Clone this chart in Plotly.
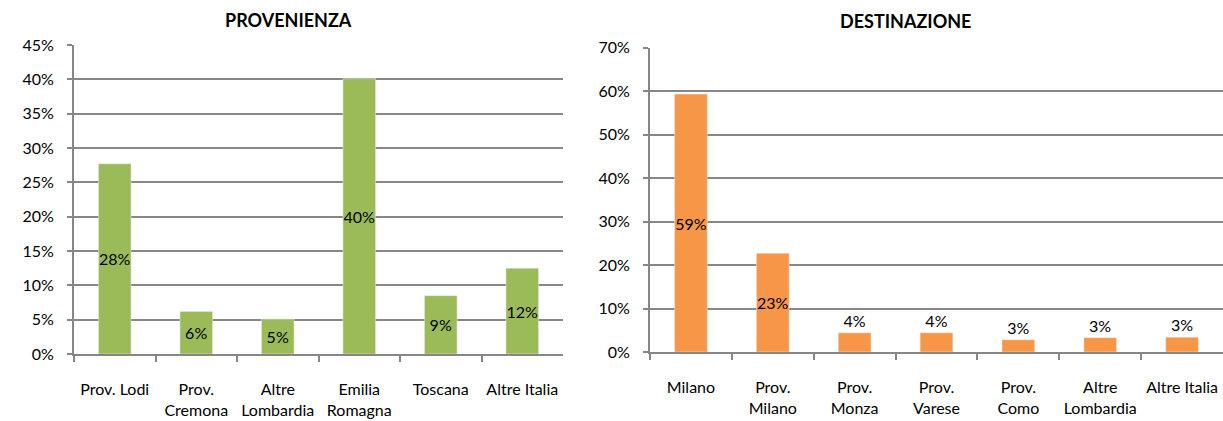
import plotly.graph_objects as go

# Provenienza (origin) shares
prov_categories = ["Prov. Lodi", "Prov.<br>Cremona", "Altre<br>Lombardia",
                   "Emilia<br>Romagna", "Toscana", "Altre Italia"]
prov_values = [27.7, 6.2, 5.1, 40.1, 8.5, 12.5]
prov_labels = ["28%", "6%", "5%", "40%", "9%", "12%"]

# Destinazione (destination) shares
dest_categories = ["Milano", "Prov.<br>Milano", "Prov.<br>Monza", "Prov.<br>Varese",
                   "Prov.<br>Como", "Altre<br>Lombardia", "Altre Italia"]
dest_values = [59.3, 22.7, 4.4, 4.4, 2.8, 3.3, 3.4]
dest_labels = ["59%", "23%", "4%", "4%", "3%", "3%", "3%"]
dest_textpos = ["inside", "inside", "outside", "outside", "outside", "outside", "outside"]

y_ticks_left = [0, 5, 10, 15, 20, 25, 30, 35, 40, 45]
y_ticks_right = [0, 10, 20, 30, 40, 50, 60, 70]

W, H = 1223, 421
FONT = "Lato"
FS = 16
GRID = "#878787"
GREEN = "#9BBB59"
ORANGE = "#F79646"

fig = go.Figure()

fig.add_trace(go.Bar(
    x=prov_categories, y=prov_values, text=prov_labels,
    textposition="inside", insidetextanchor="middle", constraintext="none",
    textangle=0, textfont=dict(family=FONT, size=FS, color="black"),
    marker=dict(color=GREEN), xaxis="x", yaxis="y", showlegend=False,
    hoverinfo="skip",
))

fig.add_trace(go.Bar(
    x=dest_categories, y=dest_values, text=dest_labels,
    textposition=dest_textpos, insidetextanchor="middle", constraintext="none",
    textangle=0, textfont=dict(family=FONT, size=FS, color="black"),
    marker=dict(color=ORANGE), xaxis="x2", yaxis="y2", showlegend=False,
    hoverinfo="skip", cliponaxis=False,
))


def px_x(v):
    return v / W


def px_y(v):
    return 1 - v / H


xaxis_common = dict(
    type="category", showgrid=False, showline=True, linecolor=GRID, linewidth=2,
    ticks="outside", tickson="boundaries", ticklen=6, tickcolor=GRID, tickwidth=2,
    tickangle=0, automargin=False,
    tickfont=dict(family=FONT, size=FS, color="black"), ticklabelstandoff=20,
    fixedrange=True,
)
yaxis_common = dict(
    showgrid=True, gridcolor=GRID, gridwidth=2, showline=True, linecolor=GRID,
    linewidth=2, ticks="outside", ticklen=5, tickcolor=GRID, tickwidth=2,
    tickmode="array", tickfont=dict(family=FONT, size=FS, color="black"),
    ticklabelstandoff=10, zeroline=False, fixedrange=True, automargin=False,
)

fig.update_layout(
    width=W, height=H,
    margin=dict(l=0, r=0, t=0, b=0),
    paper_bgcolor="white", plot_bgcolor="white",
    bargap=0.6,
    xaxis=dict(xaxis_common, domain=[px_x(74), px_x(563)], anchor="y"),
    yaxis=dict(yaxis_common, domain=[px_y(354), px_y(45)], range=[0, 45],
               tickvals=y_ticks_left, ticktext=[f"{v}%" for v in y_ticks_left],
               anchor="x"),
    xaxis2=dict(xaxis_common, domain=[px_x(650), 1.0], anchor="y2"),
    yaxis2=dict(yaxis_common, domain=[px_y(352), px_y(47.5)], range=[0, 70],
                tickvals=y_ticks_right, ticktext=[f"{v}%" for v in y_ticks_right],
                anchor="x2"),
    annotations=[
        dict(text="<b>PROVENIENZA</b>", x=px_x(288), y=px_y(20), xref="paper",
             yref="paper", showarrow=False, xanchor="center", yanchor="middle",
             font=dict(family=FONT, size=18, color="black")),
        dict(text="<b>DESTINAZIONE</b>", x=px_x(906), y=px_y(21), xref="paper",
             yref="paper", showarrow=False, xanchor="center", yanchor="middle",
             font=dict(family=FONT, size=18, color="black")),
    ],
)

fig.write_html("out.html")
